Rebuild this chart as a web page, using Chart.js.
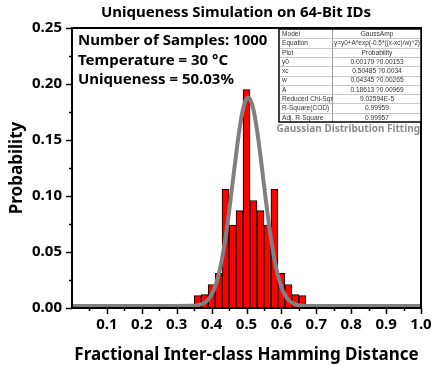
<!DOCTYPE html>
<html>
<head>
<meta charset="utf-8">
<script src="https://cdn.jsdelivr.net/npm/chart.js@4.4.1/dist/chart.umd.min.js"></script>
<style>
  html, body { margin: 0; padding: 0; background: #fff; }
  #wrap { width: 432px; height: 366px; }
</style>
</head>
<body>
<div id="wrap"><canvas id="hdChart" width="432" height="366"></canvas></div>
<script>
// Histogram bins (centres) and the probability
const binCenters = [0.36, 0.38, 0.40, 0.42, 0.44, 0.46, 0.48, 0.50, 0.52, 0.54, 0.56, 0.58, 0.60, 0.62, 0.64, 0.66];
const probabilities = [0.011, 0.012, 0.021, 0.031, 0.106, 0.074, 0.087, 0.195, 0.096, 0.087, 0.074, 0.106, 0.031, 0.021, 0.012, 0.011];

// Gaussian fit curve
const fitX = [0, 0.30, 0.34, 0.36, 0.37, 0.38, 0.39, 0.40, 0.41, 0.42, 0.43, 0.44, 0.45, 0.46, 0.47, 0.48, 0.49, 0.50, 0.505,
              0.51, 0.52, 0.53, 0.54, 0.55, 0.56, 0.57, 0.58, 0.59, 0.60, 0.61, 0.62, 0.64, 0.66, 0.70, 1.0];
const fitY = [0.0018, 0.0018, 0.0019, 0.0025, 0.0034, 0.0048, 0.0074, 0.0119, 0.0190, 0.0294, 0.0440, 0.0629, 0.0857, 0.1111, 0.1367, 0.1598, 0.1774, 0.1868, 0.1879,
              0.1866, 0.1770, 0.1592, 0.1360, 0.1103, 0.0850, 0.0623, 0.0435, 0.0291, 0.0187, 0.0118, 0.0073, 0.0033, 0.0021, 0.0018, 0.0018];

// Text bits
const chartTitle = "Uniqueness Simulation on 64-Bit IDs";
const xTitle = "Fractional Inter-class Hamming Distance";
const yTitle = "Probability";
const infoLines = ["Number of Samples: 1000", "Temperature = 30 \u00B0C", "Uniqueness = 50.03%"];
const fitCaption = "Gaussian Distribution Fitting";
const fitTableRows = [
  ["Model", "GaussAmp"],
  ["Equation", "y=y0+A*exp(-0.5*((x-xc)/w)^2)"],
  ["Plot", "Probability"],
  ["y0", "0.00179 ?0.00153"],
  ["xc", "0.50485 ?0.0034"],
  ["w", "0.04345 ?0.00265"],
  ["A", "0.18613 ?0.00969"],
  ["Reduced Chi-Sqr", "9.02594E-5"],
  ["R-Square(COD)", "0.99959"],
  ["Adj. R-Square", "0.99957"]
];

const FONT = '"Noto Sans", "DejaVu Sans", sans-serif';

// title, frame, outward ticks, text block and the fit table
const decorations = {
  id: "decorations",
  afterDraw(chart) {
    const { ctx, chartArea: a, scales } = chart;
    const xs = scales.x, ys = scales.y;
    ctx.save();

    // title
    ctx.fillStyle = "#000";
    ctx.font = "bold 15px " + FONT;
    ctx.textAlign = "center";
    ctx.textBaseline = "middle";
    ctx.fillText(chartTitle, chart.width / 2 + 20, 13);

    // outward tick marks
    ctx.strokeStyle = "#000";
    ctx.lineWidth = 1.5;
    ctx.beginPath();
    for (let i = 1; i <= 20; i++) {
      const px = Math.round(xs.getPixelForValue(i * 0.05)) + 0.5;
      const len = i % 2 === 0 ? 6 : 3;
      ctx.moveTo(px, a.bottom);
      ctx.lineTo(px, a.bottom + len);
    }
    for (let i = 0; i <= 10; i++) {
      const py = Math.round(ys.getPixelForValue(i * 0.025)) + 0.5;
      const len = i % 2 === 0 ? 6 : 3;
      ctx.moveTo(a.left, py);
      ctx.lineTo(a.left - len, py);
    }
    ctx.stroke();

    // plot frame
    ctx.lineWidth = 2;
    ctx.strokeRect(a.left, a.top, a.right - a.left, a.bottom - a.top);

    // sample info
    ctx.font = "bold 15px " + FONT;
    ctx.textAlign = "left";
    infoLines.forEach((t, i) => ctx.fillText(t, a.left + 6, a.top + 13 + i * 19.5));

    // fit table
    const tw = 142, rowH = 9.3;
    const tx = a.right - tw, ty = a.top + 1;
    const colX = tx + 53;
    const th = rowH * fitTableRows.length;
    ctx.fillStyle = "#fff";
    ctx.fillRect(tx, ty, tw, th);
    ctx.lineWidth = 1;
    ctx.strokeStyle = "#c8c8c8";
    ctx.beginPath();
    for (let r = 1; r < fitTableRows.length; r++) {
      const y = Math.round(ty + r * rowH) + 0.5;
      ctx.moveTo(tx, y);
      ctx.lineTo(tx + tw, y);
    }
    ctx.stroke();
    ctx.strokeStyle = "#9a9a9a";
    ctx.beginPath();
    ctx.moveTo(colX + 0.5, ty);
    ctx.lineTo(colX + 0.5, ty + th);
    ctx.stroke();
    ctx.strokeStyle = "#000";
    ctx.lineWidth = 1.5;
    ctx.strokeRect(tx, ty, tw, th);

    ctx.font = "6.6px \"Liberation Sans\", Arial, sans-serif";
    ctx.fillStyle = "#333";
    const valueWidth = tx + tw - colX - 3;
    fitTableRows.forEach((row, r) => {
      const cy = ty + r * rowH + rowH / 2 + 0.5;
      ctx.textAlign = "left";
      ctx.fillText(row[0], tx + 3, cy);
      ctx.textAlign = "center";
      ctx.fillText(row[1], (colX + tx + tw) / 2 + 0.5, cy, valueWidth);
    });

    // caption under the table
    ctx.font = "bold 10px " + FONT;
    ctx.fillStyle = "#8c8c8c";
    ctx.textAlign = "right";
    ctx.fillText(fitCaption, a.right - 1, ty + th + 7);

    ctx.restore();
  }
};

const barData = binCenters.map((x, i) => ({ x: x, y: probabilities[i] }));
const fitData = fitX.map((x, i) => ({ x: x, y: fitY[i] }));

new Chart(document.getElementById("hdChart"), {
  type: "bar",
  data: {
    datasets: [
      {
        type: "line",
        data: fitData,
        borderColor: "#808080",
        borderWidth: 4,
        pointRadius: 0,
        cubicInterpolationMode: "monotone",
        fill: false,
        order: 0
      },
      {
        type: "bar",
        data: barData,
        backgroundColor: "#ff0000",
        borderColor: "#000",
        borderWidth: 1,
        barPercentage: 1,
        categoryPercentage: 1,
        order: 1
      }
    ]
  },
  options: {
    responsive: false,
    animation: false,
    devicePixelRatio: 1,
    layout: { padding: { top: 28, right: 11, bottom: 0, left: 0 } },
    plugins: {
      legend: { display: false },
      tooltip: { enabled: false },
      title: { display: false }
    },
    scales: {
      x: {
        type: "linear",
        min: 0,
        max: 1,
        offset: false,
        grid: { display: false, drawTicks: false },
        border: { display: false },
        ticks: {
          stepSize: 0.1,
          autoSkip: false,
          maxRotation: 0,
          padding: 8,
          color: "#000",
          font: { family: FONT, size: 15, weight: "bold" },
          callback: v => (v === 0 ? "" : v.toFixed(1))
        },
        title: {
          display: true,
          text: xTitle,
          color: "#000",
          font: { family: FONT, size: 17, weight: "bold" },
          padding: { top: 4, bottom: 1 }
        },
        afterFit(scale) {
          scale.height = 58;
          scale.paddingLeft = 0;
          scale.paddingRight = 0;
        }
      },
      y: {
        min: 0,
        max: 0.25,
        grid: { display: false, drawTicks: false },
        border: { display: false },
        ticks: {
          stepSize: 0.05,
          padding: 10,
          color: "#000",
          font: { family: FONT, size: 15, weight: "bold" },
          callback: v => v.toFixed(2)
        },
        title: {
          display: true,
          text: yTitle,
          color: "#000",
          font: { family: FONT, size: 17, weight: "bold" },
          padding: { top: 7, bottom: 0 }
        },
        afterFit(scale) {
          scale.width = 72;
          scale.paddingTop = 0;
          scale.paddingBottom = 0;
        }
      }
    }
  },
  plugins: [decorations]
});
</script>
</body>
</html>
